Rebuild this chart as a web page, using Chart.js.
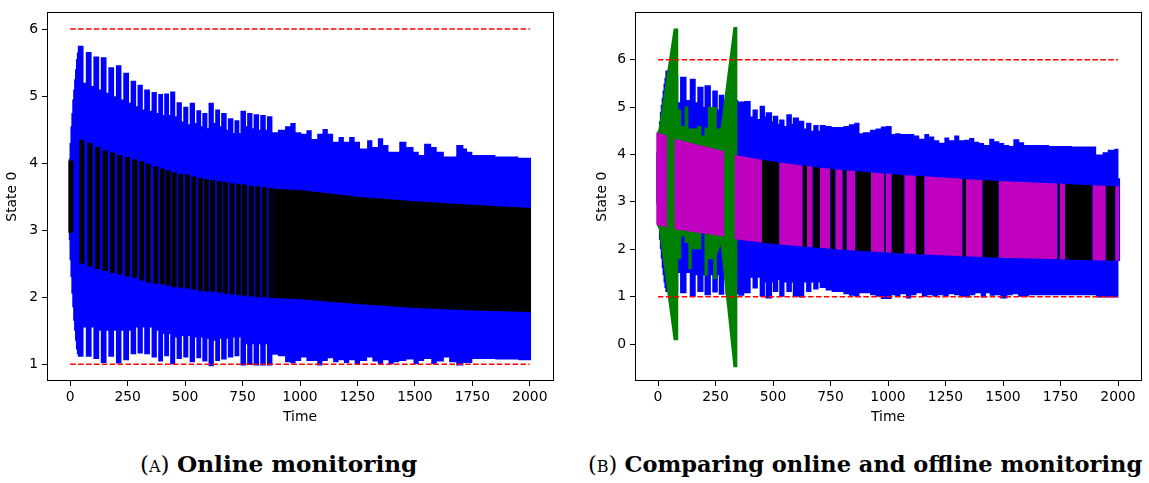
<!DOCTYPE html>
<html>
<head>
<meta charset="utf-8">
<script src="https://cdn.jsdelivr.net/npm/chart.js@4.4.1/dist/chart.umd.min.js"></script>
<style>
  html, body { margin: 0; padding: 0; background: #fff; }
  #figure { position: relative; width: 1149px; height: 483px; overflow: hidden; background: #fff; }
  canvas { position: absolute; top: 0; }
  #chartA { left: 0; }
  #chartB { left: 590px; }
  .caption { position: absolute; top: 451px; line-height: 26px; font-family: 'DejaVu Serif', serif; font-size: 22.5px; white-space: nowrap; color: #000; }
  .caption b { font-weight: bold; }
  .sc { font-variant: small-caps; }
  #capA { left: 140px; font-size: 23.2px; }
  #capB { left: 588px; }
</style>
</head>
<body>
<div id="figure">
  <canvas id="chartA" width="560" height="430"></canvas>
  <canvas id="chartB" width="559" height="430"></canvas>
  <div class="caption" id="capA">(<span class="sc">a</span>) <b>Online monitoring</b></div>
  <div class="caption" id="capB">(<span class="sc">b</span>) <b>Comparing online and offline monitoring</b></div>
</div>
<script>
// Axis ticks
const timeTicks = [0, 250, 500, 750, 1000, 1250, 1500, 1750, 2000]
const stateTicksA = [1, 2, 3, 4, 5, 6]
const stateTicksB = [0, 1, 2, 3, 4, 5, 6]

// Safety bounds (dashed red), drawn over the time span
const boundValues = [1, 6]
const boundSpan = [0, 2000]

// (A) outer reachable envelope, [time, state] steps
const blueHighA = [
  [-7, 4.07], [-3, 4.3], [1, 4.55], [5, 4.75], [9, 4.95], [13, 5.1], [17, 5.25], [21, 5.4], [25, 5.55], [29, 5.65],
  [33, 5.75], [58, 5.2], [68, 5.66], [93, 5.15], [101, 5.59], [126, 5.1], [133, 5.58], [158, 5.05],
  [166, 5.43], [191, 5.0], [199, 5.46], [223, 4.95], [231, 5.35], [256, 4.9], [263, 5.23], [287, 4.85],
  [293, 5.17], [316, 4.8], [322, 5.1], [347, 4.78], [354, 5.06], [377, 4.75], [383, 5.03], [404, 4.72],
  [409, 5.04], [430, 4.72], [435, 5.07], [457, 4.7], [463, 4.91], [486, 4.62], [492, 4.84], [514, 4.58],
  [520, 4.9], [543, 4.6], [549, 4.79], [570, 4.55], [575, 4.75], [597, 4.52], [602, 4.9], [625, 4.6],
  [631, 4.8], [652, 4.55], [657, 4.75], [681, 4.5], [686, 4.67], [710, 4.45], [715, 4.64], [736, 4.45],
  [741, 4.78], [765, 4.55], [770, 4.75], [793, 4.52], [798, 4.73], [822, 4.5], [827, 4.72], [851, 4.5],
  [856, 4.7], [880, 4.46], [904, 4.5], [935, 4.55], [958, 4.6], [981, 4.46], [1005, 4.44], [1028, 4.49],
  [1051, 4.36], [1075, 4.44], [1098, 4.51], [1121, 4.44], [1144, 4.32], [1168, 4.39], [1191, 4.32],
  [1214, 4.39], [1238, 4.32], [1261, 4.22], [1292, 4.34], [1315, 4.24], [1339, 4.37], [1362, 4.27],
  [1385, 4.17], [1432, 4.32], [1463, 4.24], [1494, 4.17], [1517, 4.12], [1540, 4.29], [1571, 4.24],
  [1595, 4.17], [1626, 4.1], [1680, 4.27], [1711, 4.22], [1727, 4.17], [1750, 4.12], [1850, 4.1],
  [1950, 4.08], [2006, 4.08]
]
const blueLowA = [
  [-7, 2.85], [-3, 2.55], [1, 2.3], [5, 2.05], [9, 1.85], [13, 1.65], [17, 1.5], [21, 1.35], [25, 1.22], [29, 1.15],
  [33, 1.11], [58, 1.55], [68, 1.11], [93, 1.55], [101, 1.08], [126, 1.5], [133, 1.02], [158, 1.5],
  [166, 1.11], [191, 1.5], [199, 1.01], [223, 1.5], [231, 1.06], [256, 1.5], [263, 1.15], [287, 1.55],
  [293, 1.16], [316, 1.55], [322, 1.15], [347, 1.55], [354, 1.1], [377, 1.5], [383, 1.04], [404, 1.45],
  [409, 1.12], [430, 1.45], [435, 1.0], [457, 1.4], [463, 1.08], [486, 1.42], [492, 1.1], [514, 1.42],
  [520, 1.03], [543, 1.4], [549, 1.09], [570, 1.4], [575, 1.04], [597, 1.38], [602, 0.97], [625, 1.35],
  [631, 1.05], [652, 1.38], [657, 1.07], [681, 1.38], [686, 1.1], [710, 1.4], [715, 1.12], [736, 1.4],
  [741, 0.98], [765, 1.3], [770, 0.99], [793, 1.3], [798, 0.98], [822, 1.3], [827, 0.98], [851, 1.3],
  [856, 0.98], [880, 1.14], [904, 1.12], [935, 1.03], [958, 1.01], [981, 1.05], [1005, 1.1], [1028, 1.05],
  [1075, 0.98], [1098, 1.05], [1121, 1.09], [1144, 1.03], [1168, 1.06], [1191, 1.02], [1214, 1.06],
  [1238, 1.0], [1261, 1.05], [1292, 1.1], [1315, 1.04], [1339, 1.0], [1362, 1.06], [1385, 1.0],
  [1408, 1.03], [1432, 1.05], [1463, 1.07], [1494, 1.0], [1517, 1.05], [1540, 1.08], [1571, 1.0],
  [1595, 1.04], [1626, 1.1], [1649, 1.03], [1680, 0.98], [1711, 1.02], [1750, 1.08], [1850, 1.07],
  [1950, 1.06], [2006, 1.06]
]

// (A) online monitor sets: separate columns, then a solid band
const blackColsA = [3, 51, 86, 119, 152, 184, 216, 249, 281, 311, 340, 372, 401, 427, 453, 481, 510, 538, 567, 593, 620, 649, 675, 704, 733, 759, 788, 816, 845, 874]
const blackTopA = [4.04, 4.35, 4.3, 4.24, 4.19, 4.16, 4.12, 4.09, 4.06, 4.03, 3.99, 3.95, 3.92, 3.89, 3.86, 3.84, 3.83, 3.8, 3.78, 3.76, 3.75, 3.73, 3.72, 3.7, 3.69, 3.68, 3.66, 3.65, 3.64, 3.63]
const blackBottomA = [2.96, 2.5, 2.46, 2.42, 2.39, 2.36, 2.34, 2.31, 2.29, 2.25, 2.22, 2.2, 2.19, 2.17, 2.15, 2.14, 2.13, 2.11, 2.09, 2.09, 2.08, 2.07, 2.05, 2.04, 2.03, 2.02, 2.01, 2.0, 2.0, 1.99]
const bandHighA = [[885, 3.62], [1000, 3.6], [1250, 3.5], [1500, 3.43], [1750, 3.38], [2006, 3.33]]
const bandLowA = [[885, 1.99], [1000, 1.97], [1250, 1.9], [1500, 1.84], [1750, 1.8], [2006, 1.78]]

// (B) outer reachable envelope
const blueHighB = [
  [-8, 4.05], [-4, 4.3], [0, 4.5], [4, 4.7], [8, 4.9], [12, 5.05], [16, 5.2], [20, 5.35], [24, 5.5], [28, 5.62],
  [32, 5.77], [45, 5.2], [62, 5.68], [88, 5.1], [96, 5.64], [124, 5.15], [138, 5.6], [164, 5.1], [171, 5.43],
  [198, 5.0], [202, 5.46], [230, 5.0], [236, 5.35], [260, 4.95], [264, 5.26], [288, 4.9], [293, 5.2],
  [320, 4.85], [325, 5.15], [349, 5.12], [375, 5.13], [403, 4.8], [411, 4.95], [434, 4.75], [442, 5.03],
  [465, 4.8], [468, 4.89], [496, 4.7], [499, 4.82], [523, 4.65], [527, 4.74], [550, 4.6], [558, 4.85],
  [582, 4.65], [586, 4.78], [613, 4.71], [636, 4.55], [644, 4.67], [667, 4.5], [675, 4.62], [698, 4.5],
  [703, 4.62], [729, 4.6], [755, 4.58], [806, 4.6], [830, 4.64], [853, 4.67], [876, 4.45], [891, 4.47],
  [922, 4.52], [946, 4.55], [969, 4.59], [992, 4.6], [1016, 4.43], [1031, 4.45], [1054, 4.43], [1114, 4.4],
  [1136, 4.33], [1158, 4.43], [1179, 4.38], [1201, 4.3], [1223, 4.25], [1245, 4.36], [1266, 4.3],
  [1288, 4.4], [1310, 4.3], [1332, 4.31], [1353, 4.35], [1375, 4.27], [1397, 4.24], [1418, 4.2],
  [1440, 4.33], [1462, 4.28], [1484, 4.24], [1505, 4.2], [1527, 4.18], [1545, 4.32], [1571, 4.26],
  [1592, 4.2], [1700, 4.18], [1800, 4.17], [1905, 4.0], [1933, 4.05], [1955, 4.1], [1984, 4.12],
  [2002, 3.5], [2010, 3.5]
]
const blueLowB = [
  [-8, 2.95], [-4, 2.7], [0, 2.45], [4, 2.2], [8, 2.0], [12, 1.8], [16, 1.6], [20, 1.45], [24, 1.3], [28, 1.18],
  [32, 1.1], [45, 1.5], [62, 1.08], [88, 1.5], [96, 1.07], [124, 1.5], [138, 1.0], [164, 1.45], [171, 1.1],
  [198, 1.45], [202, 1.03], [230, 1.45], [236, 1.09], [260, 1.45], [264, 1.04], [288, 1.45], [293, 1.05],
  [320, 1.45], [325, 1.05], [349, 1.02], [375, 1.07], [403, 1.4], [411, 1.17], [434, 1.4], [442, 1.0],
  [465, 1.3], [468, 0.96], [496, 1.3], [499, 1.1], [523, 1.35], [527, 1.0], [550, 1.3], [558, 1.1],
  [582, 1.3], [586, 1.0], [613, 0.98], [636, 1.3], [644, 1.1], [667, 1.3], [675, 1.15], [698, 1.3],
  [703, 1.18], [729, 1.13], [755, 1.1], [806, 1.05], [830, 1.02], [853, 1.0], [876, 1.07], [922, 1.03],
  [946, 1.0], [969, 0.95], [1016, 1.03], [1031, 1.0], [1054, 1.05], [1078, 0.96], [1101, 1.03],
  [1124, 1.07], [1147, 1.0], [1171, 1.03], [1194, 1.0], [1217, 1.03], [1240, 1.0], [1264, 1.05],
  [1287, 1.03], [1310, 1.0], [1333, 0.98], [1357, 1.03], [1380, 1.07], [1403, 0.98], [1426, 1.07],
  [1442, 1.02], [1465, 1.03], [1488, 0.96], [1519, 1.03], [1543, 1.05], [1566, 1.0], [1612, 1.03],
  [1905, 0.98], [2002, 1.75], [2010, 1.75]
]

// (B) offline over-approximation (green)
const greenHighB = [
  [-5, 4.45], [3, 4.55], [68, 6.66], [88, 6.66], [88, 4.95], [101, 4.95], [101, 4.6], [116, 4.6],
  [116, 5.02], [132, 5.02], [132, 4.55], [171, 4.55], [171, 4.6], [189, 4.6], [189, 4.4], [202, 4.4],
  [202, 4.57], [217, 4.57], [217, 5.0], [256, 5.0], [256, 4.55], [272, 4.55], [328, 6.69], [346, 6.69]
]
const greenLowB = [
  [-5, 2.5], [3, 2.45], [68, 0.08], [88, 0.08], [88, 1.79], [101, 1.79], [101, 2.27], [116, 2.27],
  [116, 2.13], [132, 2.13], [132, 1.58], [147, 1.58], [147, 2.0], [189, 2.0], [189, 2.34], [202, 2.34],
  [202, 1.44], [217, 1.44], [217, 1.79], [240, 1.79], [240, 1.37], [256, 1.37], [256, 1.86], [272, 2.1],
  [328, -0.49], [346, -0.49]
]

// (B) online vs offline band: edges, top values, kind of each interval (m = magenta, k = black, g = gap)
const bandEdgesB = [-8, 39, 71, 288, 332, 452, 527, 629, 648, 672, 704, 749, 771, 803, 820, 858, 926, 984, 991, 1016, 1071, 1121, 1158, 1324, 1339, 1411, 1481, 1737, 1747, 1770, 1889, 1947, 1988, 2006]
const bandTopB = [4.47, 4.4, 4.33, 4.07, 3.99, 3.89, 3.83, 3.77, 3.76, 3.74, 3.72, 3.7, 3.69, 3.67, 3.66, 3.65, 3.62, 3.6, 3.6, 3.59, 3.56, 3.55, 3.54, 3.49, 3.48, 3.46, 3.44, 3.39, 3.39, 3.38, 3.35, 3.34, 3.33, 3.33]
const bandKindsB = ['m', 'g', 'm', 'g', 'm', 'k', 'm', 'k', 'm', 'k', 'm', 'k', 'm', 'k', 'm', 'k', 'm', 'k', 'm', 'k', 'm', 'k', 'm', 'k', 'm', 'k', 'm', 'k', 'm', 'k', 'm', 'k', 'm']
const bandLowB = [[-8, 2.52], [71, 2.42], [190, 2.34], [288, 2.27], [332, 2.21], [527, 2.1], [800, 1.99], [1075, 1.91], [1480, 1.82], [1890, 1.77], [2006, 1.76]]

// Colors (matplotlib basics)
const BLUE = '#0000ff'
const BLACK = '#000000'
const MAGENTA = '#bf00bf'
const GREEN = '#008000'
const RED = '#ff0000'
const kindColor = { m: MAGENTA, k: BLACK, g: 'rgba(0,0,0,0)' }

const tickFont = { family: "'DejaVu Sans', sans-serif", size: 13.9 }

// Helpers
const pts = arr => arr.map(([x, y]) => ({ x, y }))

function areaPair(high, low, color, order, stepped) {
  return [
    { type: 'line', data: pts(high), backgroundColor: color, borderWidth: 0, pointRadius: 0, fill: '+1', order, stepped },
    { type: 'line', data: pts(low), borderWidth: 0, pointRadius: 0, fill: false, order, stepped }
  ]
}

function boundLines() {
  return boundValues.map(v => ({
    type: 'line',
    data: boundSpan.map(t => ({ x: t, y: v })),
    borderColor: RED,
    borderWidth: 1.5,
    borderDash: [5.5, 2.4],
    pointRadius: 0,
    fill: false,
    order: 0
  }))
}

function createPanel(canvas, datasets, cfg) {
  return new Chart(canvas, {
    type: 'line',
    data: { datasets },
    options: {
      responsive: false,
      animation: false,
      devicePixelRatio: 1,
      events: [],
      layout: { padding: { top: 4, right: cfg.padRight, bottom: 0, left: 0 } },
      plugins: { legend: { display: false }, tooltip: { enabled: false } },
      scales: {
        x: {
          type: 'linear',
          position: 'bottom',
          offset: false,
          min: cfg.xMin,
          max: cfg.xMax,
          afterBuildTicks: axis => { axis.ticks = timeTicks.map(v => ({ value: v })) },
          afterFit: axis => { axis.height = 49 },
          ticks: { color: '#000', font: tickFont, padding: 3, maxRotation: 0, autoSkip: false, callback: v => String(v) },
          grid: { display: true, offset: false, drawOnChartArea: false, drawTicks: true, tickLength: 5, color: '#000', lineWidth: 1 },
          border: { display: true, color: '#000', width: 1, z: 1 },
          title: { display: true, text: 'Time', color: '#000', font: tickFont, padding: { top: 2, bottom: 4 } }
        },
        y: {
          type: 'linear',
          position: 'left',
          min: cfg.yMin,
          max: cfg.yMax,
          afterBuildTicks: axis => { axis.ticks = cfg.yTicks.map(v => ({ value: v })) },
          afterFit: axis => { axis.width = cfg.yWidth },
          ticks: { color: '#000', font: tickFont, padding: 4, autoSkip: false, callback: v => String(v) },
          grid: { display: true, drawOnChartArea: false, drawTicks: true, tickLength: 5, color: '#000', lineWidth: 1 },
          border: { display: true, color: '#000', width: 1, z: 1 },
          title: { display: true, text: 'State 0', color: '#000', font: tickFont, padding: { top: 4, bottom: 2 } }
        },
        xTop: {
          type: 'linear',
          position: 'top',
          display: true,
          ticks: { display: false },
          grid: { display: false, drawTicks: false },
          border: { display: true, color: '#000', width: 1, z: 1 },
          afterFit: axis => { axis.height = 0 }
        },
        yRight: {
          type: 'linear',
          position: 'right',
          display: true,
          ticks: { display: false },
          grid: { display: false, drawTicks: false },
          border: { display: true, color: '#000', width: 1, z: 1 },
          afterFit: axis => { axis.width = 0 }
        }
      }
    }
  })
}

// Panel A: online monitoring
const datasetsA = [
  ...boundLines(),
  {
    type: 'bar',
    data: blackColsA.map((t, i) => ({ x: t, y: [blackBottomA[i], blackTopA[i]] })),
    backgroundColor: BLACK,
    borderWidth: 0,
    barPercentage: 1,
    categoryPercentage: 0.85,
    grouped: false,
    order: 1
  },
  ...areaPair(bandHighA, bandLowA, BLACK, 1, false),
  ...areaPair(blueHighA, blueLowA, BLUE, 3, true)
]

createPanel(document.getElementById('chartA'), datasetsA, {
  xMin: -101, xMax: 2101, yMin: 0.75, yMax: 6.25, yTicks: stateTicksA, yWidth: 47, padRight: 7
})

// Panel B: online vs offline monitoring
const datasetsB = [
  ...boundLines(),
  {
    type: 'line',
    data: bandEdgesB.map((t, i) => ({ x: t, y: bandTopB[i] })),
    backgroundColor: MAGENTA,
    borderWidth: 0,
    pointRadius: 0,
    fill: '+1',
    order: 1,
    segment: { backgroundColor: ctx => kindColor[bandKindsB[ctx.p0DataIndex]] }
  },
  { type: 'line', data: pts(bandLowB), borderWidth: 0, pointRadius: 0, fill: false, order: 1 },
  ...areaPair(greenHighB, greenLowB, GREEN, 2, false),
  ...areaPair(blueHighB, blueLowB, BLUE, 3, true)
]

createPanel(document.getElementById('chartB'), datasetsB, {
  xMin: -100, xMax: 2100, yMin: -0.78, yMax: 7.0, yTicks: stateTicksB, yWidth: 45, padRight: 8
})
</script>
</body>
</html>
